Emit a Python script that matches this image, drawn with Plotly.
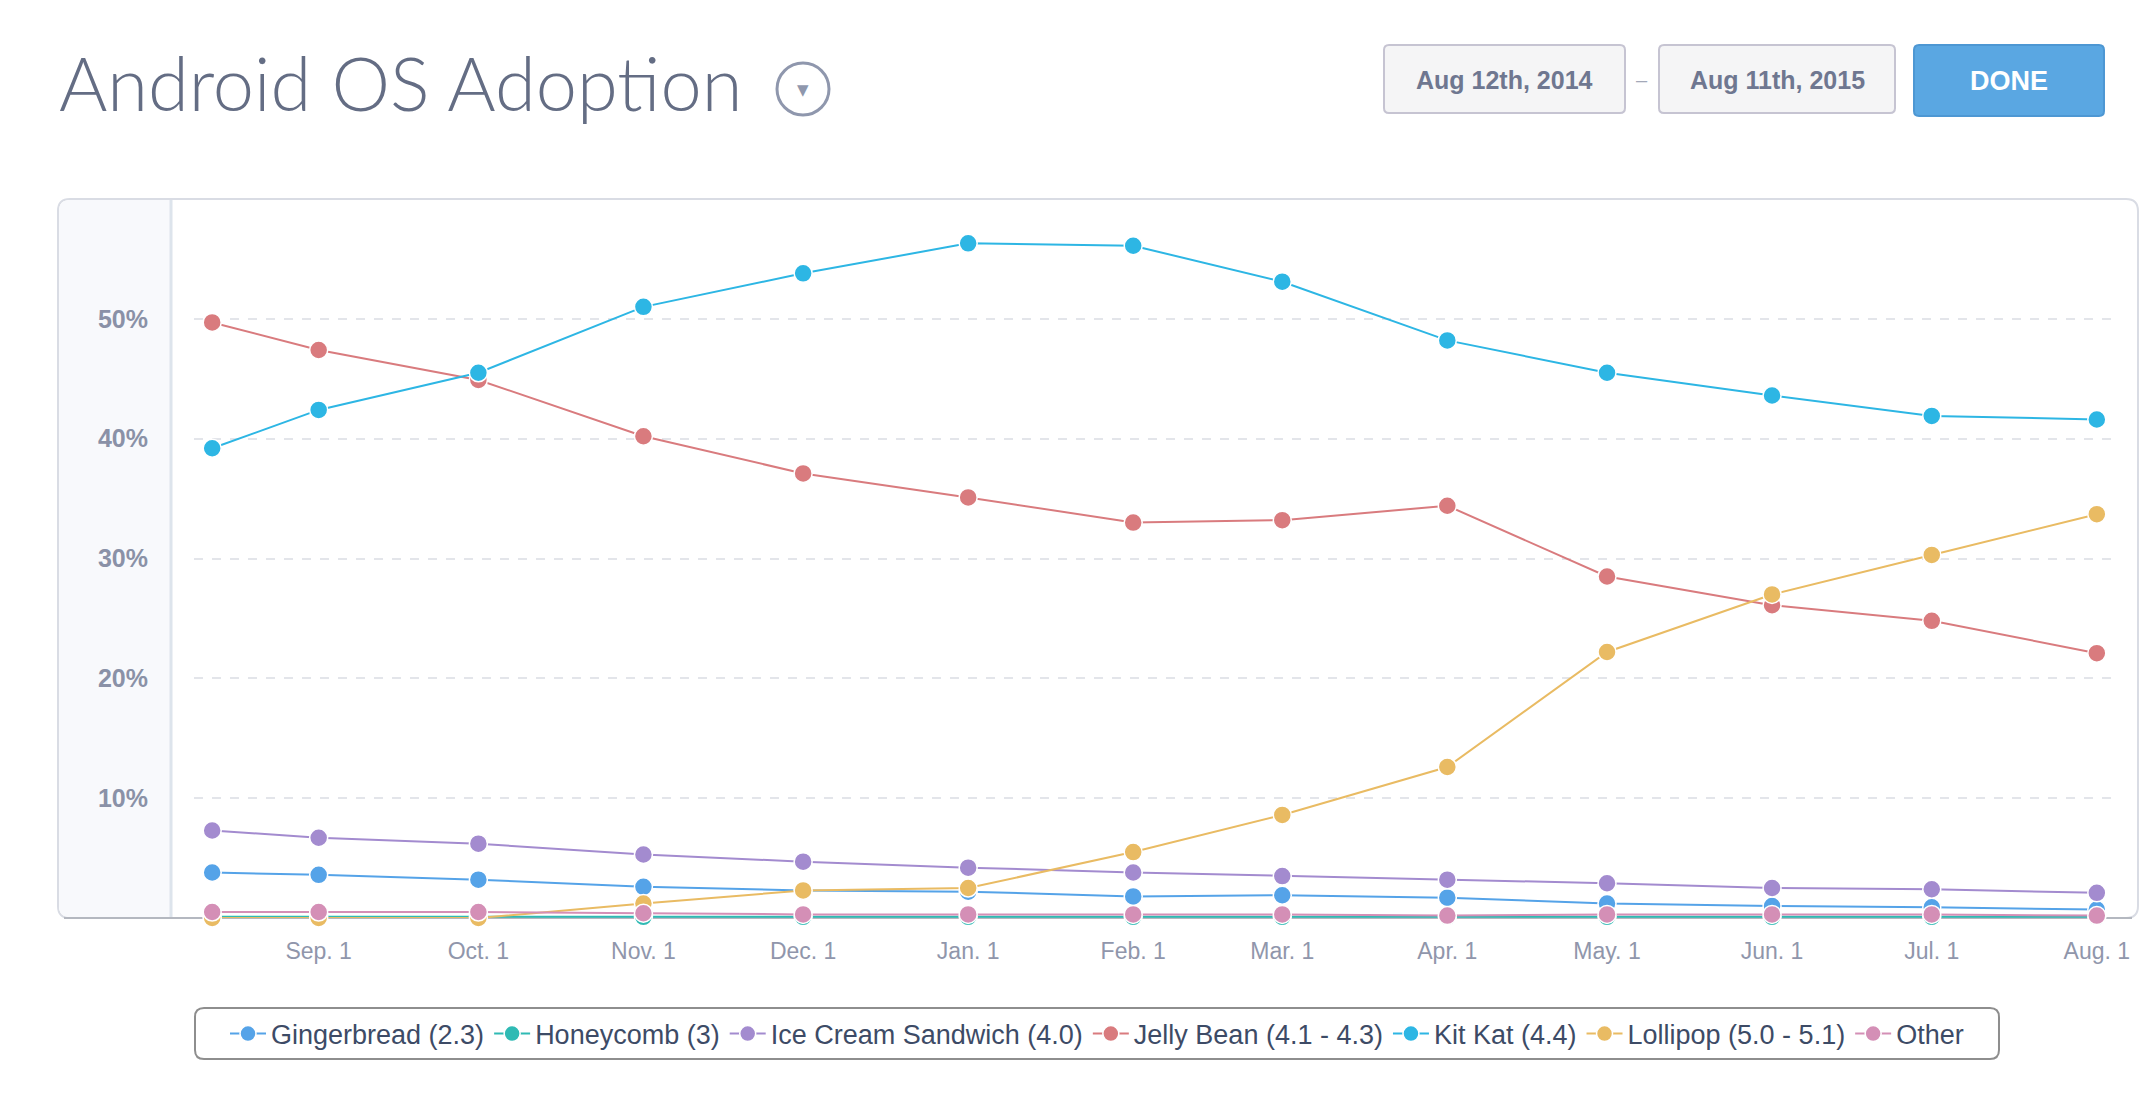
import plotly.graph_objects as go

# sample dates (first reading, then the 1st of every month)
dates = ["2014-08-12", "2014-09-01", "2014-10-01", "2014-11-01", "2014-12-01",
         "2015-01-01", "2015-02-01", "2015-03-01", "2015-04-01", "2015-05-01",
         "2015-06-01", "2015-07-01", "2015-08-01"]

# share of devices, percent
gingerbread = [3.8, 3.6, 3.2, 2.6, 2.3, 2.2, 1.8, 1.9, 1.7, 1.2, 1.0, 0.9, 0.7]
honeycomb = [0.1, 0.1, 0.1, 0.1, 0.1, 0.1, 0.1, 0.1, 0.1, 0.1, 0.1, 0.1, 0.1]
ice_cream = [7.3, 6.7, 6.2, 5.3, 4.7, 4.2, 3.8, 3.5, 3.2, 2.9, 2.5, 2.4, 2.1]
jelly_bean = [49.7, 47.4, 44.9, 40.2, 37.1, 35.1, 33.0, 33.2, 34.4, 28.5, 26.1, 24.8, 22.1]
kit_kat = [39.2, 42.4, 45.5, 51.0, 53.8, 56.3, 56.1, 53.1, 48.2, 45.5, 43.6, 41.9, 41.6]
lollipop = [0.0, 0.0, 0.0, 1.2, 2.3, 2.5, 5.5, 8.6, 12.6, 22.2, 27.0, 30.3, 33.7]
other = [0.5, 0.5, 0.5, 0.4, 0.3, 0.3, 0.3, 0.3, 0.2, 0.3, 0.3, 0.3, 0.2]

series_names = ["Gingerbread (2.3)", "Honeycomb (3)", "Ice Cream Sandwich (4.0)",
                "Jelly Bean (4.1 - 4.3)", "Kit Kat (4.4)", "Lollipop (5.0 - 5.1)", "Other"]
series_values = [gingerbread, honeycomb, ice_cream, jelly_bean, kit_kat, lollipop, other]
series_colors = ["#55a3e8", "#2fbab4", "#a38bcf", "#d97b7e", "#2db6e4", "#e9bb63", "#d48fb6"]

tick_dates = dates[1:]
tick_labels = ["Sep. 1", "Oct. 1", "Nov. 1", "Dec. 1", "Jan. 1", "Feb. 1", "Mar. 1",
               "Apr. 1", "May. 1", "Jun. 1", "Jul. 1", "Aug. 1"]
y_ticks = [10, 20, 30, 40, 50]
y_tick_labels = ["10%", "20%", "30%", "40%", "50%"]

W, H = 2142, 1102
L, R, T, B = 194, 27, 199, 184
pw, ph = W - L - R, H - T - B


def fx(px):
    return (px - L) / pw


def fy(py):
    return (H - B - py) / ph


def rrect(x0, y0, x1, y1, r):
    # rounded rectangle in pixel coords -> paper path
    pts = [
        ("M", [(x0 + r, y0)]), ("L", [(x1 - r, y0)]), ("Q", [(x1, y0), (x1, y0 + r)]),
        ("L", [(x1, y1 - r)]), ("Q", [(x1, y1), (x1 - r, y1)]),
        ("L", [(x0 + r, y1)]), ("Q", [(x0, y1), (x0, y1 - r)]),
        ("L", [(x0, y0 + r)]), ("Q", [(x0, y0), (x0 + r, y0)]),
    ]
    s = ""
    for cmd, ps in pts:
        s += cmd + " " + " ".join(f"{fx(a):.5f},{fy(b):.5f}" for a, b in ps) + " "
    return s + "Z"


fig = go.Figure()

for name, vals, col in zip(series_names, series_values, series_colors):
    fig.add_trace(go.Scatter(
        x=dates, y=vals, name=name, mode="lines+markers",
        line=dict(color=col, width=2),
        marker=dict(color=col, size=18, line=dict(color="white", width=1.5)),
        cliponaxis=False,
    ))

shapes = [
    # chart panel
    dict(type="path", path=rrect(58, 199, 2138, 918, 12), fillcolor="white",
         line=dict(color="#d9dce4", width=2), layer="below"),
    # left gutter
    dict(type="path", path=rrect(59, 200, 183, 917, 11), fillcolor="#f8f9fc",
         line=dict(width=0), layer="below"),
    dict(type="rect", x0=fx(171), x1=fx(185), y0=fy(917), y1=fy(200), fillcolor="white",
         line=dict(width=0), layer="below"),
    dict(type="line", x0=fx(171), x1=fx(171), y0=fy(917), y1=fy(200),
         line=dict(color="#dde4ec", width=3), layer="below"),
    dict(type="line", x0=fx(64), x1=fx(2132), y0=fy(918), y1=fy(918),
         line=dict(color="#b4b8c0", width=2), layer="below"),
    # date pickers and button
    dict(type="path", path=rrect(1384, 45, 1625, 113, 5), fillcolor="#f5f5f6",
         line=dict(color="#c6c4d2", width=2)),
    dict(type="path", path=rrect(1659, 45, 1895, 113, 5), fillcolor="#f5f5f6",
         line=dict(color="#c6c4d2", width=2)),
    dict(type="path", path=rrect(1914, 45, 2104, 116, 5), fillcolor="#5aa7e2",
         line=dict(color="#4d97d3", width=2)),
    # dropdown icon
    dict(type="circle", x0=fx(777), x1=fx(829), y0=fy(115), y1=fy(63),
         line=dict(color="#8f97ad", width=3)),
    # legend frame
    dict(type="path", path=rrect(195, 1008, 1999, 1059, 9), fillcolor="rgba(0,0,0,0)",
         line=dict(color="#8e8e8e", width=2)),
]

annotations = [
    dict(text="Android OS Adoption", x=fx(57), y=fy(83), xanchor="left", yanchor="middle",
         font=dict(family="Lato", size=74, color="#646d84", weight=300)),
    dict(text="▼", x=fx(803), y=fy(90), xanchor="center", yanchor="middle",
         font=dict(family="DejaVu Sans", size=15, color="#8f97ad")),
    dict(text="<b>Aug 12th, 2014</b>", x=fx(1504), y=fy(80), xanchor="center", yanchor="middle",
         font=dict(family="Liberation Sans", size=25, color="#6f7790")),
    dict(text="–", x=fx(1642), y=fy(80), xanchor="center", yanchor="middle",
         font=dict(family="Liberation Sans", size=20, color="#a3a8b8")),
    dict(text="<b>Aug 11th, 2015</b>", x=fx(1777), y=fy(80), xanchor="center", yanchor="middle",
         font=dict(family="Liberation Sans", size=25, color="#6f7790")),
    dict(text="<b>DONE</b>", x=fx(2009), y=fy(81), xanchor="center", yanchor="middle",
         font=dict(family="Liberation Sans", size=27, color="white")),
]
for a in annotations:
    a.update(xref="paper", yref="paper", showarrow=False)
for s in shapes:
    s.update(xref="paper", yref="paper")

fig.update_layout(
    width=W, height=H,
    margin=dict(l=L, r=R, t=T, b=B),
    paper_bgcolor="white",
    plot_bgcolor="rgba(0,0,0,0)",
    font=dict(family="Liberation Sans"),
    shapes=shapes,
    annotations=annotations,
    showlegend=True,
    legend=dict(
        orientation="h", x=fx(1097), y=fy(1034), xanchor="center", yanchor="middle",
        font=dict(family="Liberation Sans", size=27, color="#3d4b66"),
        bgcolor="rgba(0,0,0,0)", borderwidth=0, itemclick=False, itemwidth=36,
    ),
    xaxis=dict(
        type="date", range=["2014-08-08 14:00", "2015-08-04 10:00"],
        tickvals=tick_dates, ticktext=tick_labels,
        showgrid=False, zeroline=False, showline=False,
        ticks="outside", ticklen=12, tickcolor="rgba(0,0,0,0)",
        tickfont=dict(family="Liberation Sans", size=23, color="#9096ab"),
    ),
    yaxis=dict(
        range=[0, 60], tickvals=y_ticks, ticktext=y_tick_labels,
        showgrid=True, gridcolor="#e3e5ea", gridwidth=1.5, griddash="dash",
        zeroline=False, showline=False, ticklabelstandoff=45,
        tickfont=dict(family="Liberation Sans", size=25, color="#8a91a7", weight="bold"),
    ),
)

fig.write_html("out.html", config={"displayModeBar": False},
               post_script="document.body.style.margin='0';")
